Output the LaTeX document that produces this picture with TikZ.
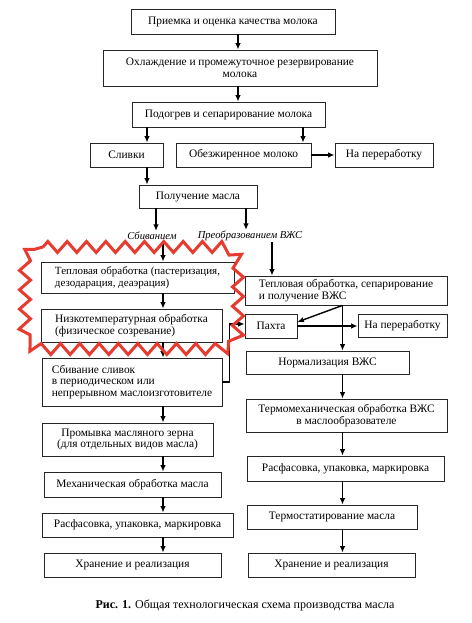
\documentclass[tikz,border=0pt]{standalone}
\usepackage{fontspec}
\setmainfont{Liberation Serif}
\usetikzlibrary{arrows.meta,positioning,fit,calc,decorations.pathmorphing}
\definecolor{HiRed}{HTML}{E63B2E}

\begin{document}
\begin{tikzpicture}[
  x=1pt,y=-1pt,
  font=\fontsize{11.4}{11.8}\selectfont,
  >={Latex[length=6.5pt,width=5.5pt]},
  box/.style={draw=black!85,line width=0.8pt,inner sep=1pt,minimum height=24pt},
  flow/.style={->,line width=1.4pt},
  way/.style={font=\fontsize{10.6}{11}\selectfont\itshape,inner sep=1pt},
  zigframe/.style={draw=HiRed,line width=3pt,decorate,
    decoration={zigzag,segment length=19.33pt,amplitude=5.5pt}}
  ]
  \useasboundingbox (0,0) rectangle (471,623);

  % columns of the arrows
  \coordinate (ctr) at (238,0);
  \coordinate (sl)  at (147,0);
  \coordinate (ob)  at (303,0);
  \coordinate (pa)  at (156,0);
  \coordinate (pb)  at (246,0);
  \coordinate (pc)  at (272,0);
  \coordinate (lcol) at (163,0);
  \coordinate (rcol) at (342.5,0);

  % common part
  \node[box,minimum width=204pt,minimum height=25pt] (priem) at (233,21.5)
    {Приемка и оценка качества молока};
  \node[box,minimum width=274pt,minimum height=36pt,align=center] (ohl) at (240,68)
    {Охлаждение и промежуточное резервирование\\молока};
  \node[box,minimum width=193pt,minimum height=25pt] (podog) at (228.5,114.5)
    {Подогрев и сепарирование молока};
  \node[box,minimum width=73pt] (slivki)   at (126.5,155) {Сливки};
  \node[box,minimum width=135pt] (obezh)   at (243.5,155) {Обезжиренное молоко};
  \node[box,minimum width=98pt] (pererab1) at (384,155)   {На переработку};
  \node[box,minimum width=118pt,minimum height=23pt] (poluch) at (198,196.5)
    {Получение масла};
  \node[way] (sbiv)   at (152,236) {Сбиванием};
  \node[way] (preobr) at (250,236) {Преобразованием ВЖС};

  % left branch
  \node[box,minimum width=193pt,minimum height=31pt,align=left,
    font=\fontsize{11}{11.8}\selectfont] (teplo1) at (137.5,277.5)
    {Тепловая обработка (пастеризация,\\дезодарация, деаэрация)};
  \node[box,minimum width=181pt,minimum height=33pt,align=left] (nizko) at (131.5,325.5)
    {Низкотемпературная обработка\\(физическое созревание)};
  \node[box,minimum width=180pt,minimum height=48pt,align=left] (sbivan) at (132,382)
    {Сбивание сливок\\в периодическом или\\непрерывном маслоизготовителе};
  \node[box,minimum width=171pt,minimum height=33pt,align=center] (promyv) at (127.5,439.5)
    {Промывка масляного зерна\\(для отдельных видов масла)};
  \node[box,minimum width=177pt,minimum height=25pt] (mech) at (132.5,484.5)
    {Механическая обработка масла};
  \node[box,minimum width=191pt] (rasf1) at (137.5,525) {Расфасовка, упаковка, маркировка};
  \node[box,minimum width=177pt] (hran1) at (132.5,565) {Хранение и реализация};

  % right branch
  \node[box,minimum width=202pt,minimum height=29pt,align=left] (teplo2) at (346,290.5)
    {Тепловая обработка, сепарирование\\и получение ВЖС};
  \node[box,minimum width=52pt] (pakhta)   at (271,326)   {Пахта};
  \node[box,minimum width=89pt,minimum height=23pt] (pererab2) at (402.5,325.5) {На переработку};
  \node[box,minimum width=163pt,minimum height=23pt] (norm) at (327.5,362.5) {Нормализация ВЖС};
  \node[box,minimum width=201pt,minimum height=33pt,align=center] (termo) at (346.5,415.5)
    {Термомеханическая обработка ВЖС\\в маслообразователе};
  \node[box,minimum width=197pt,minimum height=25pt] (rasf2) at (345.5,468.5)
    {Расфасовка, упаковка, маркировка};
  \node[box,minimum width=170pt] (termost) at (332,517) {Термостатирование масла};
  \node[box,minimum width=167pt] (hran2)   at (331.5,565) {Хранение и реализация};

  \node[font=\fontsize{12}{12.5}\selectfont] (caption) at (245,605)
    {\textbf{Рис. 1.} Общая технологическая схема производства масла};

  % connectors
  \draw[flow] (priem.south -| ctr) -- (ohl.north -| ctr);
  \draw[flow] (ohl.south -| ctr) -- (podog.north -| ctr);
  \draw[flow] (podog.south -| sl) -- (slivki.north -| sl);
  \draw[flow] (podog.south -| ob) -- (obezh.north -| ob);
  \draw[flow] (obezh.east) -- (pererab1.west);
  \draw[flow] (slivki.south -| sl) -- (poluch.north -| sl);
  \draw[flow] (poluch.south -| pa) -- (sbiv.north -| pa);
  \draw[flow] (poluch.south -| pb) -- (preobr.north -| pb);

  \draw[flow] (sbiv.south -| lcol)   -- (teplo1.north -| lcol);
  \draw[flow] (teplo1.south -| lcol) -- (nizko.north -| lcol);
  \draw[flow] (nizko.south -| lcol)  -- (sbivan.north -| lcol);
  \draw[flow] (sbivan.south -| lcol) -- (promyv.north -| lcol);
  \draw[flow] (promyv.south -| lcol) -- (mech.north -| lcol);
  \draw[flow] (mech.south -| lcol)   -- (rasf1.north -| lcol);
  \draw[flow] (rasf1.south -| lcol)  -- (hran1.north -| lcol);
  \draw[flow] (sbivan.east) -- ++(7,0) |- ([yshift=2pt]pakhta.west);

  \draw[flow] (preobr.south -| pc) -- (teplo2.north -| pc);
  \draw[flow] (teplo2.south -| rcol) -- ([yshift=4pt]pakhta.east);
  \draw[flow] (teplo2.south -| rcol) -- (norm.north -| rcol);
  \draw[flow] (pakhta.east) -- (pakhta.east -| pererab2.west);
  \draw[flow] (norm.south -| rcol)    -- (termo.north -| rcol);
  \draw[flow] (termo.south -| rcol)   -- (rasf2.north -| rcol);
  \draw[flow] (rasf2.south -| rcol)   -- (termost.north -| rcol);
  \draw[flow] (termost.south -| rcol) -- (hran2.north -| rcol);

  % highlight
  \draw[zigframe] (43,247) -- (220,247) arc[start angle=270,end angle=360,radius=18]
    -- (238,331) arc[start angle=0,end angle=90,radius=18]
    -- (43,349) arc[start angle=90,end angle=180,radius=18]
    -- (25,265) arc[start angle=180,end angle=270,radius=18] -- cycle;
\end{tikzpicture}
\end{document}
